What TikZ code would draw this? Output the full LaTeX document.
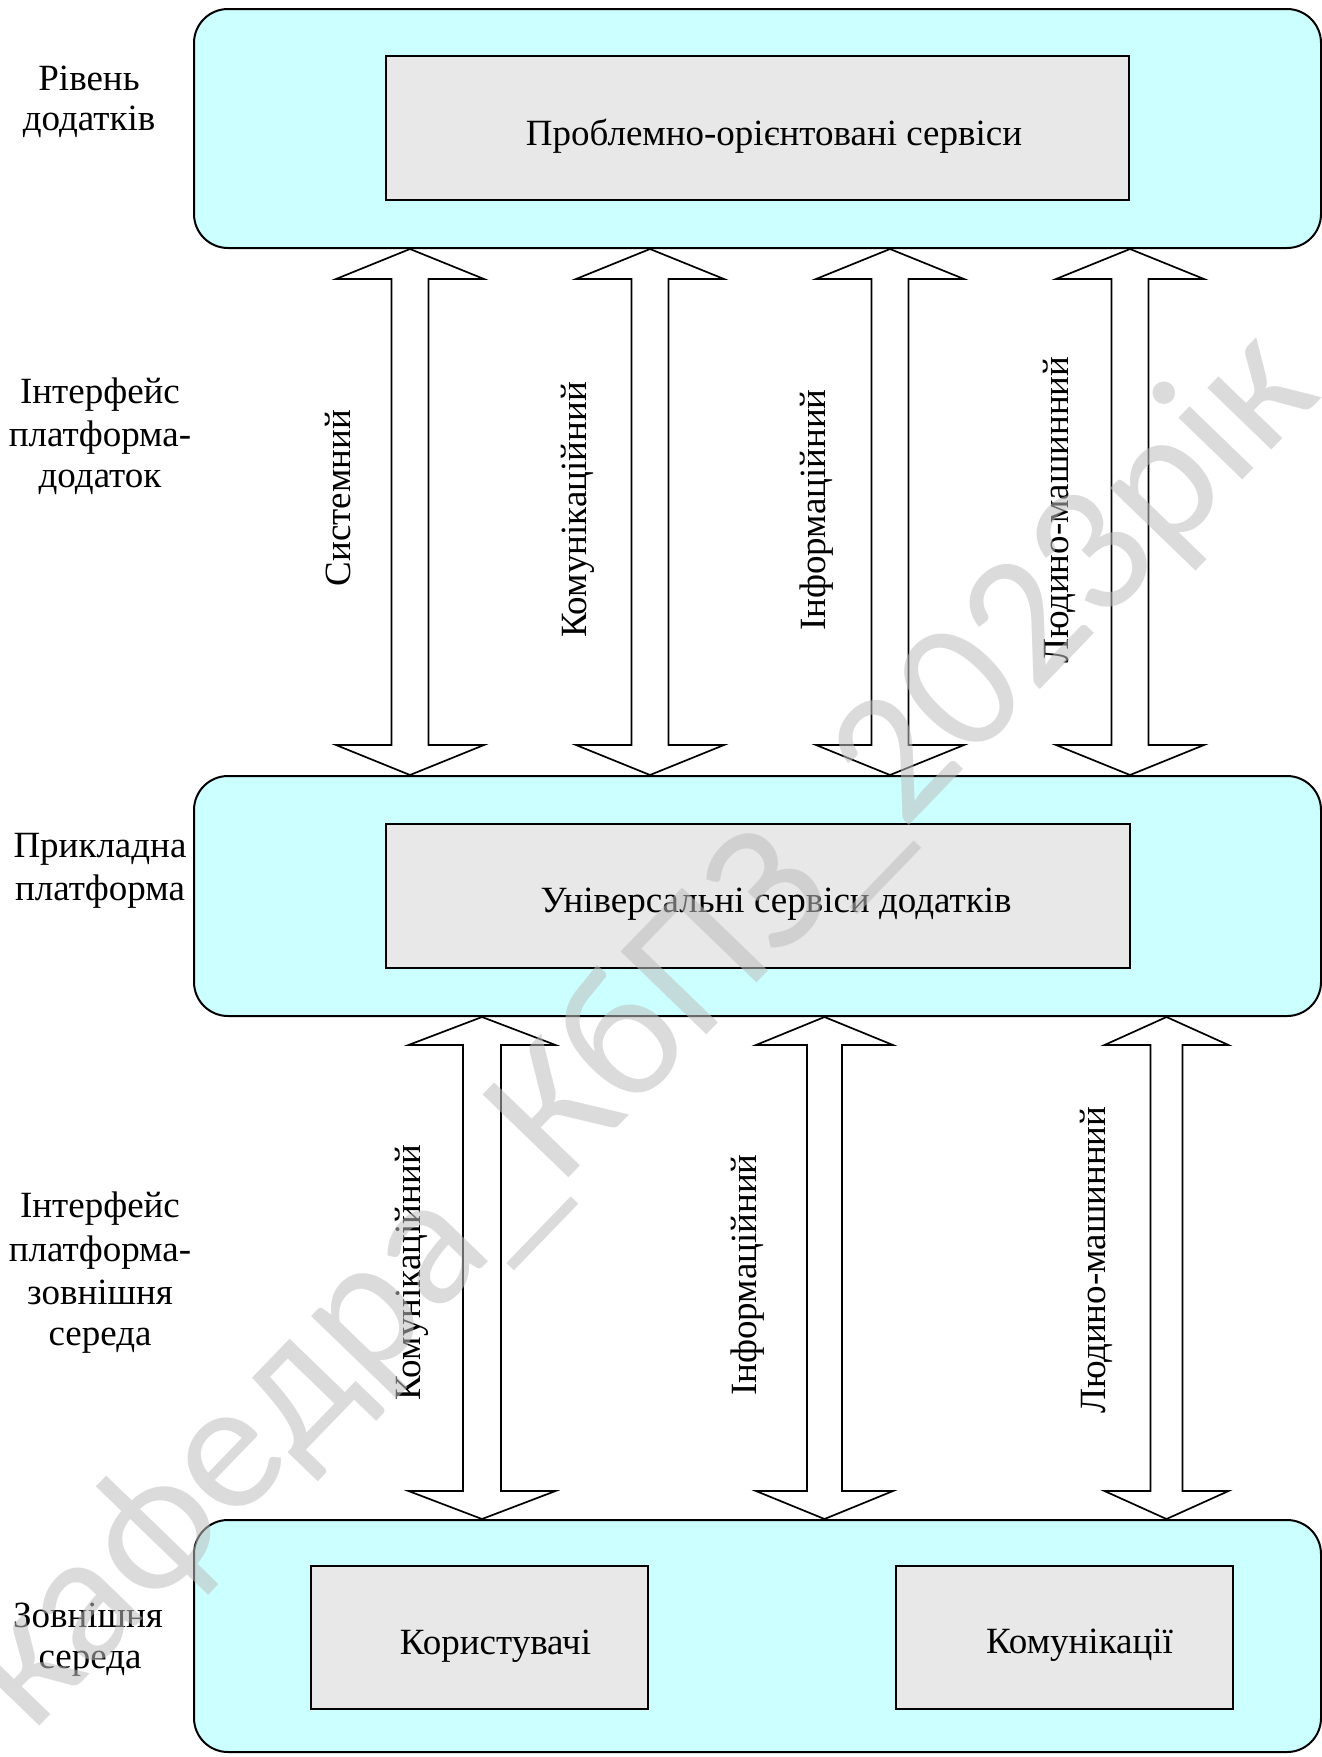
\documentclass[tikz,border=0pt]{standalone}
\usepackage{fontspec}
\setmainfont{Liberation Serif}
\newfontfamily\wmfont{Carlito}
\usetikzlibrary{calc}
\definecolor{layerfill}{HTML}{CCFFFF}
\definecolor{svcfill}{HTML}{E8E8E8}
\definecolor{wmgray}{RGB}{190,190,190}
\tikzset{
  layer/.style={draw, line width=2pt, fill=layerfill, rounded corners=34pt,
    minimum width=1127pt, inner sep=0pt},
  svc/.style={draw, line width=1.8pt, fill=svcfill, inner sep=0pt},
  txt/.style={font=\fontsize{37}{44}\selectfont, inner sep=0pt, anchor=base},
  vlabel/.style={font=\fontsize{37}{44}\selectfont, inner sep=0pt, rotate=90},
  blockarr/.style={draw, fill=white, line width=1.7pt, line join=miter},
  wmark/.style={font=\wmfont\fontsize{186}{186}\selectfont, text=wmgray,
    text opacity=0.55, inner sep=0pt, rotate=46},
}
% double-headed block arrow between two stacked nodes
% #1 upper node, #2 lower node, #3 axis x, #4 shaft half width,
% #5 head half width, #6 head length
\newcommand\blockarrow[6]{%
  \coordinate (at) at (#1.south -| #3,0);
  \coordinate (ab) at (#2.north -| #3,0);
  \draw[blockarr] (at) -- ($(at)+(#5,#6)$) -- ($(at)+(#4,#6)$)
    -- ($(ab)+(#4,-#6)$) -- ($(ab)+(#5,-#6)$) -- (ab)
    -- ($(ab)+(-#5,-#6)$) -- ($(ab)+(-#4,-#6)$)
    -- ($(at)+(-#4,#6)$) -- ($(at)+(-#5,#6)$) -- cycle;}
\begin{document}
\begin{tikzpicture}[x=1pt, y=-1pt]
\useasboundingbox[fill=white] (0,0) rectangle (1322,1757);

% layers
\node[layer, minimum height=239pt] (lay1) at (757.5,128.5) {};
\node[layer, minimum height=240pt] (lay2) at (757.5,896) {};
\node[layer, minimum height=232pt] (lay3) at (757.5,1636) {};

% service boxes
\node[svc, minimum width=743pt, minimum height=144pt] (svc1) at (757.5,128) {};
\node[svc, minimum width=744pt, minimum height=144pt] (svc2) at (758,896) {};
\node[svc, minimum width=337pt, minimum height=143pt] (users) at (479.5,1637.5) {};
\node[svc, minimum width=337pt, minimum height=143pt] (comms) at (1064.5,1637.5) {};

\node[txt] (svc1t) at (774,145) {Проблемно-орієнтовані сервіси};
\node[txt] (svc2t) at (776,912) {Універсальні сервіси додатків};
\node[txt] (userst) at (495.5,1654) {Користувачі};
\node[txt] (commst) at (1079.5,1653) {Комунікації};

% level captions
\node[txt] (c1a) at (89,90) {Рівень};
\node[txt] (c1b) at (89,130) {додатків};
\node[txt] (c2a) at (100,403) {Інтерфейс};
\node[txt] (c2b) at (100,446) {платформа-};
\node[txt] (c2c) at (100,487) {додаток};
\node[txt] (c3a) at (100,857) {Прикладна};
\node[txt] (c3b) at (100,900) {платформа};
\node[txt] (c4a) at (100,1217) {Інтерфейс};
\node[txt] (c4b) at (100,1261) {платформа-};
\node[txt] (c4c) at (100,1304) {зовнішня};
\node[txt] (c4d) at (100,1345) {середа};
\node[txt] (c5a) at (88,1627) {Зовнішня};
\node[txt] (c5b) at (90,1668) {середа};

% platform -- application interfaces
\blockarrow{lay1}{lay2}{410}{18.5}{74}{30}
\blockarrow{lay1}{lay2}{650}{18.5}{74}{30}
\blockarrow{lay1}{lay2}{890}{18.5}{74}{30}
\blockarrow{lay1}{lay2}{1130}{18.5}{74}{30}
\node[vlabel] (i1) at (338,498) {Системний};
\node[vlabel] (i2) at (578,510) {Комунікаційний};
\node[vlabel] (i3) at (817,510) {Інформаційний};
\node[vlabel] (i4) at (1059,510) {Людино-машинний};

% platform -- environment interfaces
\blockarrow{lay2}{lay3}{482}{19}{73.5}{28}
\blockarrow{lay2}{lay3}{824.5}{17.5}{68.5}{28}
\blockarrow{lay2}{lay3}{1166.5}{16}{62}{28}
\node[vlabel] (e1) at (412,1273) {Комунікаційний};
\node[vlabel] (e2) at (748,1275) {Інформаційний};
\node[vlabel] (e3) at (1096,1260) {Людино-машинний};

% watermark
\node[wmark] (wm) at (642,1032) {кафедра\_КбПЗ\_2023рік};
\end{tikzpicture}
\end{document}
